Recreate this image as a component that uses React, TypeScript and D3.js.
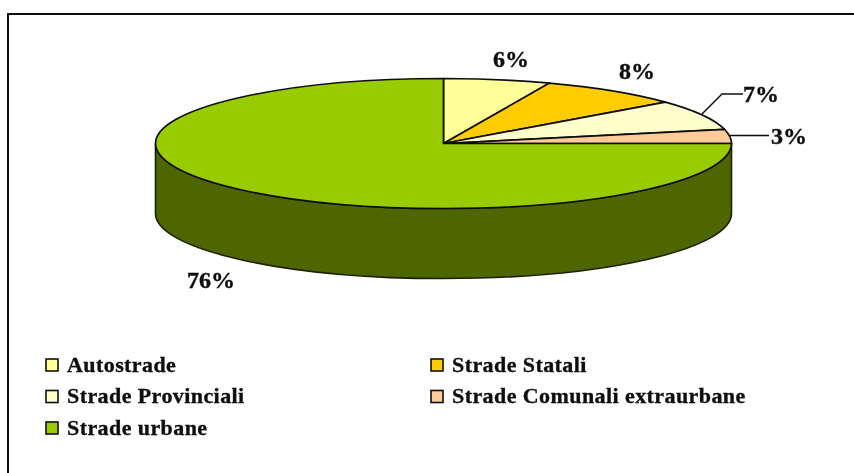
import React from "react";
import * as d3 from "d3";

const categories = ["Autostrade", "Strade Statali", "Strade Provinciali", "Strade Comunali extraurbane", "Strade urbane"];
const values = [6, 8, 7.5, 3.5, 75];
const pctLabels = ["6%", "8%", "7%", "3%", "76%"];
const colors = ["#ffff99", "#ffcc00", "#ffffcc", "#ffcc99", "#99cc00"];
const sideColor = "#4d6600";

const W = 854, H = 473;
const cx = 443.5, cy = 143.5, rx = 288, ry = 65, depth = 70;

const pie = d3.pie<number>().sort(null).value((d) => d);
const arcs = pie(values);
const arcGen = d3.arc<d3.PieArcDatum<number>>().innerRadius(0).outerRadius(rx);
const yScale = ry / rx;

const px = (a: number) => cx + rx * Math.sin(a);
const py = (a: number) => cy - ry * Math.cos(a);

function sidePath() {
  const a0 = Math.PI / 2, a1 = (3 * Math.PI) / 2;
  return (
    `M${px(a0)},${py(a0)} A${rx},${ry} 0 0 1 ${px(a1)},${py(a1)} ` +
    `L${px(a1)},${py(a1) + depth} A${rx},${ry} 0 0 0 ${px(a0)},${py(a0) + depth} Z`
  );
}

const labelPos = [
  { x: 511, y: 66.5 },
  { x: 637, y: 78.5 },
  { x: 761, y: 102 },
  { x: 789, y: 143.5 },
  { x: 211, y: 288 },
];

const leaders = [
  "M702,114 L722,94 L743,94",
  "M729,135.5 L769,135.5",
];

const legendX = [46, 431];
const legendY = [365, 396.5, 428];
const legendItems = categories.map((c, i) => ({
  name: c,
  color: colors[i],
  x: legendX[i % 2],
  y: legendY[Math.floor(i / 2)],
}));

const font = "'Liberation Serif', 'Times New Roman', serif";

export default function App() {
  return (
    <svg width={W} height={H} viewBox={`0 0 ${W} ${H}`}
      style={{ position: "absolute", left: 0, top: 0, background: "#fff" }}>
      <defs>
        <filter id="soft" x="-5%" y="-5%" width="110%" height="110%">
          <feGaussianBlur stdDeviation="0.55" />
        </filter>
      </defs>
      <g filter="url(#soft)">
        <path d="M8,473 L8,14 L854,14" fill="none" stroke="#111" strokeWidth={2} />
        <path d={sidePath()} fill={sideColor} stroke="#1a2200" strokeWidth={1.6} />
        {arcs.map((a, i) => (
          <path key={i} d={arcGen(a) ?? ""} transform={`translate(${cx},${cy}) scale(1,${yScale})`}
            fill={colors[i]} stroke="#111" strokeWidth={1.7} vectorEffect="non-scaling-stroke" strokeLinejoin="round" />
        ))}
        {leaders.map((d, i) => (
          <path key={i} d={d} fill="none" stroke="#111" strokeWidth={1.5} />
        ))}
        {pctLabels.map((t, i) => (
          <text key={i} x={labelPos[i].x} y={labelPos[i].y} textAnchor="middle"
            fontFamily={font} fontWeight="bold" fontSize={24}
            stroke="#111" strokeWidth={0.4} fill="#111">{t}</text>
        ))}
        {legendItems.map((l, i) => (
          <g key={i}>
            <rect x={l.x} y={l.y - 6} width={12} height={12} fill={l.color} stroke="#111" strokeWidth={1.6} />
            <text x={l.x + 21} y={l.y + 6.5} fontFamily={font} fontWeight="bold" fontSize={22} letterSpacing={0.42}
              stroke="#111" strokeWidth={0.35} fill="#111">{l.name}</text>
          </g>
        ))}
      </g>
    </svg>
  );
}
